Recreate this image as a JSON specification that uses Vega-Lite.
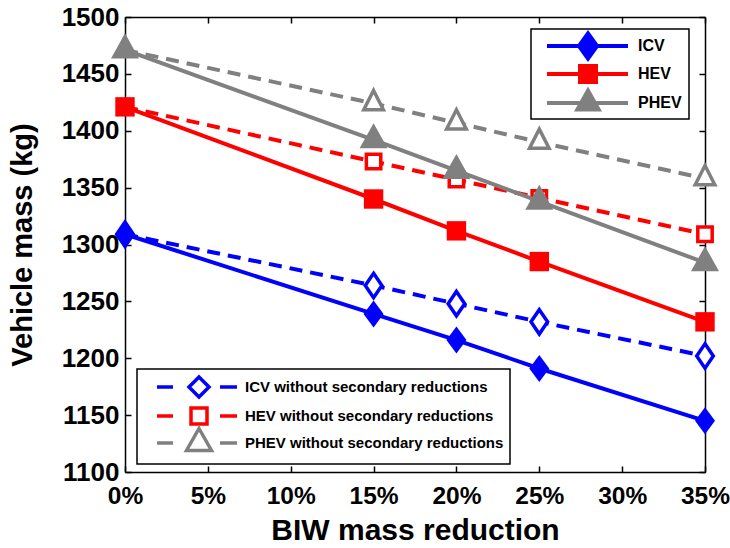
{
  "$schema": "https://vega.github.io/schema/vega-lite/v6.json",
  "width": 580,
  "height": 455,
  "autosize": "none",
  "padding": {"left": 125, "top": 17, "right": 25, "bottom": 76},
  "background": "white",
  "config": {
    "view": {"stroke": null},
    "font": "Liberation Sans",
    "axis": {
      "grid": false,
      "domainColor": "black",
      "domainWidth": 1.5,
      "tickColor": "black",
      "tickWidth": 1.5,
      "tickSize": -6,
      "labelFlush": false,
      "labelOverlap": false,
      "labelFont": "Liberation Sans",
      "labelFontSize": 26,
      "labelFontWeight": "bold",
      "labelColor": "black",
      "titleFont": "Liberation Sans",
      "titleFontSize": 30,
      "titleFontWeight": "bold",
      "titleColor": "black"
    },
    "legend": {
      "title": null,
      "strokeColor": "black",
      "strokeWidth": 1.5,
      "fillColor": "white",
      "labelFont": "Liberation Sans",
      "labelFontWeight": "bold",
      "labelColor": "black",
      "labelLimit": 400,
      "symbolSize": 400,
      "symbolOpacity": 1,
      "orient": "none"
    }
  },
  "data": {
    "values": [
      {"pct": 0.00, "mass": 1309, "series": "ICV", "style": "solid"},
      {"pct": 0.15, "mass": 1239, "series": "ICV", "style": "solid"},
      {"pct": 0.20, "mass": 1216, "series": "ICV", "style": "solid"},
      {"pct": 0.25, "mass": 1191, "series": "ICV", "style": "solid"},
      {"pct": 0.35, "mass": 1145, "series": "ICV", "style": "solid"},
      {"pct": 0.00, "mass": 1421, "series": "HEV", "style": "solid"},
      {"pct": 0.15, "mass": 1340, "series": "HEV", "style": "solid"},
      {"pct": 0.20, "mass": 1312, "series": "HEV", "style": "solid"},
      {"pct": 0.25, "mass": 1285, "series": "HEV", "style": "solid"},
      {"pct": 0.35, "mass": 1232, "series": "HEV", "style": "solid"},
      {"pct": 0.00, "mass": 1471, "series": "PHEV", "style": "solid"},
      {"pct": 0.15, "mass": 1392, "series": "PHEV", "style": "solid"},
      {"pct": 0.20, "mass": 1365, "series": "PHEV", "style": "solid"},
      {"pct": 0.25, "mass": 1338, "series": "PHEV", "style": "solid"},
      {"pct": 0.35, "mass": 1284, "series": "PHEV", "style": "solid"},
      {"pct": 0.00, "mass": 1309, "series": "ICV without secondary reductions", "style": "dashed"},
      {"pct": 0.15, "mass": 1264, "series": "ICV without secondary reductions", "style": "dashed"},
      {"pct": 0.20, "mass": 1248, "series": "ICV without secondary reductions", "style": "dashed"},
      {"pct": 0.25, "mass": 1232, "series": "ICV without secondary reductions", "style": "dashed"},
      {"pct": 0.35, "mass": 1202, "series": "ICV without secondary reductions", "style": "dashed"},
      {"pct": 0.00, "mass": 1421, "series": "HEV without secondary reductions", "style": "dashed"},
      {"pct": 0.15, "mass": 1373, "series": "HEV without secondary reductions", "style": "dashed"},
      {"pct": 0.20, "mass": 1357, "series": "HEV without secondary reductions", "style": "dashed"},
      {"pct": 0.25, "mass": 1341, "series": "HEV without secondary reductions", "style": "dashed"},
      {"pct": 0.35, "mass": 1309, "series": "HEV without secondary reductions", "style": "dashed"},
      {"pct": 0.00, "mass": 1471, "series": "PHEV without secondary reductions", "style": "dashed"},
      {"pct": 0.15, "mass": 1424, "series": "PHEV without secondary reductions", "style": "dashed"},
      {"pct": 0.20, "mass": 1407, "series": "PHEV without secondary reductions", "style": "dashed"},
      {"pct": 0.25, "mass": 1390, "series": "PHEV without secondary reductions", "style": "dashed"},
      {"pct": 0.35, "mass": 1358, "series": "PHEV without secondary reductions", "style": "dashed"}
    ]
  },
  "layer": [
    {
      "transform": [{"filter": "datum.style === 'dashed'"}],
      "encoding": {
        "x": {
          "field": "pct", "type": "quantitative",
          "scale": {"domain": [0, 0.35], "nice": false},
          "axis": {"orient": "top", "labels": false, "title": null, "values": [0, 0.05, 0.1, 0.15, 0.2, 0.25, 0.3, 0.35]}
        },
        "y": {
          "field": "mass", "type": "quantitative",
          "scale": {"domain": [1100, 1500], "nice": false, "zero": false},
          "axis": {"orient": "right", "labels": false, "title": null, "values": [1100, 1150, 1200, 1250, 1300, 1350, 1400, 1450, 1500]}
        },
        "color": {
          "field": "series", "type": "nominal",
          "scale": {
            "domain": ["ICV without secondary reductions", "HEV without secondary reductions", "PHEV without secondary reductions"],
            "range": ["#0000ff", "#ff0000", "#808080"]
          },
          "legend": {
            "legendX": 12,
            "legendY": 352,
            "padding": 6,
            "rowPadding": -10,
            "labelFontSize": 15,
            "labelOffset": 78,
            "symbolStrokeWidth": 3.5
          }
        }
      },
      "layer": [
        {"mark": {"type": "line", "strokeWidth": 4, "strokeDash": [13, 8]}},
        {
          "transform": [{"filter": "datum.series === 'ICV without secondary reductions'"}],
          "mark": {"type": "point", "shape": "M0,-1.22L0.83,0L0,1.22L-0.83,0Z", "filled": false, "fill": "white", "opacity": 1, "strokeWidth": 3.5, "size": 400}
        },
        {
          "transform": [{"filter": "datum.series === 'HEV without secondary reductions'"}],
          "mark": {"type": "point", "shape": "M-0.72,-0.72H0.72V0.72H-0.72Z", "filled": false, "fill": "white", "opacity": 1, "strokeWidth": 3.5, "size": 400}
        },
        {
          "transform": [{"filter": "datum.series === 'PHEV without secondary reductions'"}],
          "mark": {"type": "point", "shape": "M0,-1.3L0.98,0.62H-0.98Z", "filled": false, "fill": "white", "opacity": 1, "strokeWidth": 3.5, "size": 400}
        },
        {
          "mark": {"type": "point", "filled": false, "opacity": 0, "strokeWidth": 3.5, "size": 400},
          "encoding": {
            "shape": {
              "field": "series", "type": "nominal",
              "scale": {
                "domain": ["ICV without secondary reductions", "HEV without secondary reductions", "PHEV without secondary reductions"],
                "range": [
                  "M0.2,0H1.8M6.5,0H8.2M4.4,-1.0L5.4,0L4.4,1.0L3.4,0Z",
                  "M0.2,0H1.8M6.5,0H8.2M3.6,-0.8H5.2V0.8H3.6Z",
                  "M0.2,0H1.8M6.5,0H8.2M4.4,-1.45L5.65,0.75H3.15Z"
                ]
              }
            }
          }
        }
      ]
    },
    {
      "transform": [{"filter": "datum.style === 'solid'"}],
      "encoding": {
        "x": {
          "field": "pct", "type": "quantitative",
          "scale": {"domain": [0, 0.35], "nice": false},
          "axis": {"orient": "bottom", "format": ".0%", "title": "BIW mass reduction", "labelFontSize": 24.5, "values": [0, 0.05, 0.1, 0.15, 0.2, 0.25, 0.3, 0.35], "labelPadding": 18, "titlePadding": 8}
        },
        "y": {
          "field": "mass", "type": "quantitative",
          "scale": {"domain": [1100, 1500], "nice": false, "zero": false},
          "axis": {"orient": "left", "format": "d", "title": "Vehicle mass (kg)", "titleFontSize": 29, "values": [1100, 1150, 1200, 1250, 1300, 1350, 1400, 1450, 1500], "labelPadding": 12, "titlePadding": 24}
        },
        "color": {
          "field": "series", "type": "nominal",
          "scale": {"domain": ["ICV", "HEV", "PHEV"], "range": ["#0000ff", "#ff0000", "#808080"]},
          "legend": {
            "legendX": 406,
            "legendY": 12,
            "padding": 7,
            "rowPadding": 2,
            "labelFontSize": 16,
            "labelOffset": 80,
            "symbolStrokeWidth": 0
          }
        }
      },
      "layer": [
        {"mark": {"type": "line", "strokeWidth": 4}},
        {
          "transform": [{"filter": "datum.series === 'ICV'"}],
          "mark": {"type": "point", "shape": "M0,-1.35L1.0,0L0,1.35L-1.0,0Z", "filled": true, "opacity": 1, "size": 400}
        },
        {
          "transform": [{"filter": "datum.series === 'HEV'"}],
          "mark": {"type": "point", "shape": "M-0.97,-0.97H0.97V0.97H-0.97Z", "filled": true, "opacity": 1, "size": 400}
        },
        {
          "transform": [{"filter": "datum.series === 'PHEV'"}],
          "mark": {"type": "point", "shape": "M0,-1.65L1.4,0.85H-1.4Z", "filled": true, "opacity": 1, "size": 400}
        },
        {
          "mark": {"type": "point", "filled": true, "opacity": 0, "size": 400},
          "encoding": {
            "shape": {
              "field": "series", "type": "nominal",
              "scale": {
                "domain": ["ICV", "HEV", "PHEV"],
                "range": [
                  "M-0.1,-0.2H8.0V0.2H-0.1ZM4.0,-1.6L5.15,0L4.0,1.6L2.85,0Z",
                  "M-0.1,-0.2H8.0V0.2H-0.1ZM3.0,-1.0H5.0V1.0H3.0Z",
                  "M-0.1,-0.2H8.0V0.2H-0.1ZM4.0,-1.65L5.4,0.85H2.6Z"
                ]
              }
            }
          }
        }
      ]
    }
  ],
  "resolve": {
    "scale": {"color": "independent", "shape": "independent"},
    "axis": {"x": "independent", "y": "independent"}
  }
}
